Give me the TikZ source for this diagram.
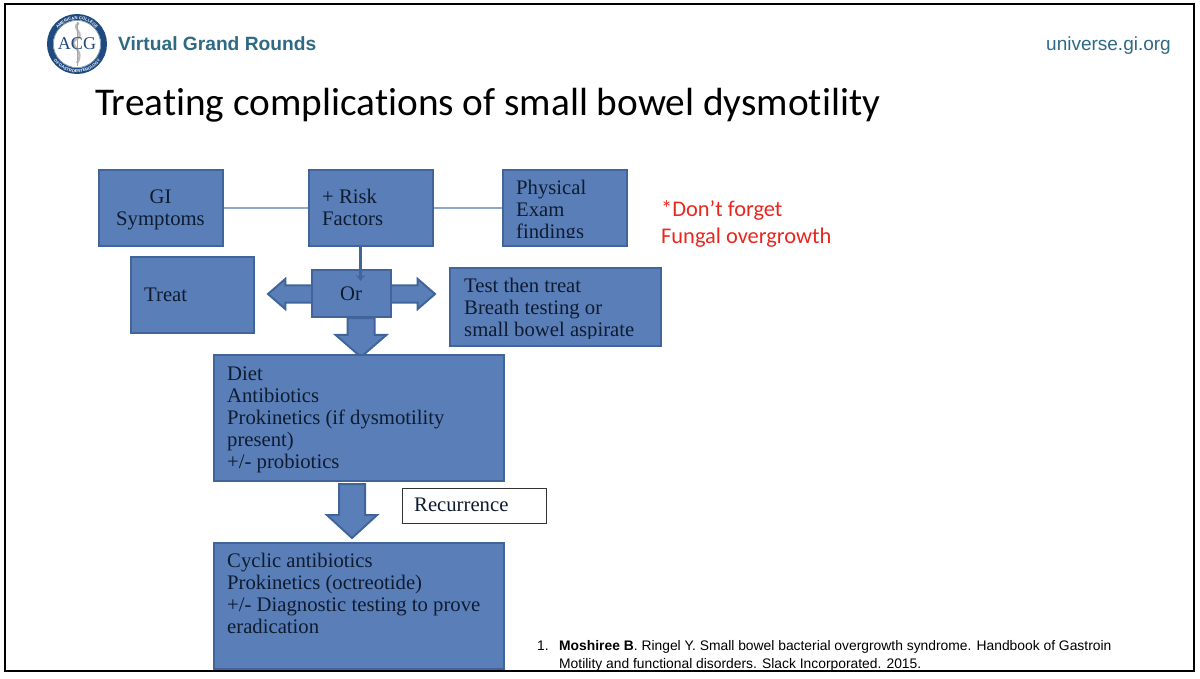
\documentclass[tikz,border=0pt]{standalone}
\usepackage{fontspec}
\setmainfont{Liberation Serif}
\newfontfamily\hdfont{Liberation Sans}
\newfontfamily\calfont[Ligatures=NoCommon]{Carlito}
\usetikzlibrary{shapes.arrows,decorations.text,arrows.meta}
\definecolor{boxfill}{HTML}{5A7FB8}
\definecolor{boxline}{HTML}{41659A}
\definecolor{linkline}{HTML}{8FA8CC}
\definecolor{boxtext}{HTML}{0E1B30}
\definecolor{teal}{HTML}{2F6A85}
\definecolor{navy}{HTML}{1F4A80}
\definecolor{redtxt}{HTML}{E8281E}
\tikzset{
  x=1pt,y=-1pt,
  bluebox/.style={draw=boxline,line width=2pt,fill=boxfill,inner sep=0pt,anchor=north west},
  txt/.style={anchor=north west,inner sep=0pt,align=left,text=boxtext,font=\fontsize{20.7}{22}\selectfont},
  blockarr/.style={draw=boxline,line width=2pt,fill=boxfill,inner xsep=0pt,outer sep=0pt},
  linkl/.style={draw=linkline,line width=1.2pt},
}
\begin{document}
\begin{tikzpicture}
\useasboundingbox (0,0) rectangle (1200,679);
\fill[white] (0,0) rectangle (1200,679);
% frame
\draw[black,line width=2.6pt] (5,4) rectangle (1194,671);
% logo
\draw[navy,line width=6pt,fill=white] (77,44) circle (27);
\draw[navy!70,line width=.5pt] (77,44) circle (23.5);
\draw[gray!55,line width=2.2pt] (79,23) .. controls (69,28) and (88,34) .. (75,40) .. controls (68,46) and (86,50) .. (77,63);
\draw[gray!70,line width=1pt] (77,22) -- (77,66);
\path[decorate,decoration={text along path,text align=center,text color=white,text={|\hdfont\bfseries\fontsize{4.2}{4}\selectfont|AMERICAN COLLEGE}}] (52.5,44) arc[start angle=180,end angle=0,radius=24.5pt];
\path[decorate,decoration={text along path,text align=center,text color=white,text={|\hdfont\bfseries\fontsize{4.2}{4}\selectfont|OF GASTROENTEROLOGY}}] (48.5,44) arc[start angle=180,end angle=360,radius=28.5pt];
\node[name=acg,inner sep=0pt,text=navy] at (77,44) {\fontsize{18}{18}\selectfont ACG};
% header
\node[name=vgr,anchor=base west,inner sep=0pt,text=teal] at (118,51) {\hdfont\bfseries\fontsize{19.2}{20}\selectfont Virtual Grand Rounds};
\node[name=uni,anchor=base east,inner sep=0pt,text=teal] at (1171,51) {\hdfont\fontsize{19}{20}\selectfont universe.gi.org};
\node[name=title,anchor=base west,inner sep=0pt,text=black] at (95,116) {\calfont\fontsize{39.3}{44}\selectfont Treating complications of small bowel dysmotility};
\node[name=note,anchor=north west,inner sep=0pt,align=left,text=redtxt,font=\calfont\fontsize{22.4}{27}\selectfont] at (661,200) {*Don’t forget\\Fungal overgrowth};
% boxes
\node[bluebox,minimum width=124pt,minimum height=76pt] (gi) at (98,169) {};
\node[bluebox,minimum width=124pt,minimum height=76pt] (risk) at (308,169) {};
\node[bluebox,minimum width=124pt,minimum height=76pt] (phys) at (502,169) {};
\node[bluebox,minimum width=123pt,minimum height=76pt] (treat) at (130,256) {};
\node[bluebox,minimum width=211pt,minimum height=78pt] (test) at (449,267) {};
\draw[linkl] (gi) -- (risk);
\draw[linkl] (risk) -- (phys);
% block arrows
\node[blockarr,double arrow,double arrow tip angle=82,double arrow head extend=6.5pt,double arrow head indent=0pt,inner ysep=7.5pt,minimum height=167pt] (lr) at (351.5,294) {};
\node[bluebox,minimum width=79pt,minimum height=47pt] (or) at (311,269) {};
\node[blockarr,single arrow,rotate=-90,single arrow tip angle=98,single arrow head extend=12pt,single arrow head indent=0pt,inner ysep=12.5pt,minimum height=39pt,anchor=tail] (down1) at (361,318) {};
\node[bluebox,minimum width=290pt,minimum height=126pt] (diet) at (213,354) {};
\node[blockarr,single arrow,rotate=-90,single arrow tip angle=95,single arrow head extend=12pt,single arrow head indent=0pt,inner ysep=12pt,minimum height=54pt,anchor=tail] (down2) at (352,484) {};
\node[bluebox,minimum width=290pt,minimum height=126pt] (cyc) at (213,542) {};
\node[draw=black!80,fill=white,line width=.9pt,inner sep=0pt,anchor=north west,minimum width=144pt,minimum height=35pt] (rec) at (402,488) {};
\draw[draw=boxline,line width=3.8pt,-{Stealth[length=6pt,width=9pt]}] ([xshift=-10.5pt]risk.south) -- ([xshift=9pt,yshift=-12pt]or.north);
% box texts
\node[txt,align=center] (t1) at (116,188) {\strut GI\\\strut Symptoms};
\node[txt] (t2) at (322,188) {\strut + Risk\\\strut Factors};
\begin{scope}
\clip (502,169) rectangle (628,238);
\node[txt] (t3) at (516,179) {\strut Physical\\\strut Exam\\\strut findings};
\end{scope}
\node[txt] (t4) at (144,286) {\strut Treat};
\node[txt] (t5) at (340,285) {\strut Or};
\begin{scope}
\clip (449,267) rectangle (662,338);
\node[txt] (t6) at (464,277) {\strut Test then treat\\\strut Breath testing or\\\strut small bowel aspirate};
\end{scope}
\node[txt] (t7) at (227,365) {\strut Diet\\\strut Antibiotics\\\strut Prokinetics (if dysmotility\\\strut present)\\\strut +/- probiotics};
\node[txt] (t8) at (227,552) {\strut Cyclic antibiotics\\\strut Prokinetics (octreotide)\\\strut +/- Diagnostic testing to prove\\\strut eradication};
\node[txt] (t9) at (414,496) {\strut Recurrence};
% reference
\node[name=r1,anchor=base west,inner sep=0pt,text=black] at (537,650) {\hdfont\fontsize{13.85}{15}\selectfont 1.};
\node[name=r2,anchor=base west,inner sep=0pt,text=black] at (559,650) {\hdfont\fontsize{13.85}{15}\selectfont \textbf{Moshiree B}. Ringel Y. Small bowel bacterial overgrowth syndrome. Handbook of Gastroin};
\node[name=r3,anchor=base west,inner sep=0pt,text=black] at (559,668) {\hdfont\fontsize{13.85}{15}\selectfont Motility and functional disorders. Slack Incorporated. 2015.};
\end{tikzpicture}
\end{document}
